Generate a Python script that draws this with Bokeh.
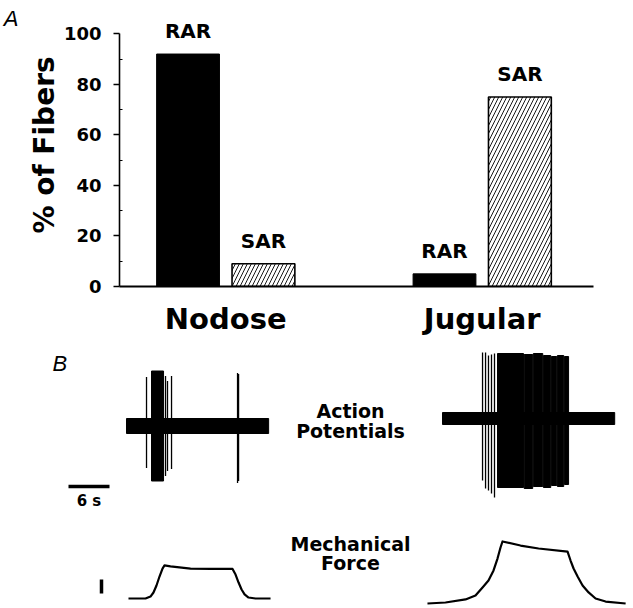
from bokeh.plotting import figure
from bokeh.models import Range1d, FixedTicker, LinearAxis
from bokeh.embed import file_html
from bokeh.resources import INLINE
from bokeh.core.properties import value

# ---------------- Panel A data ----------------
groups = ["Nodose", "Jugular"]
rar_pct = [92, 5]
sar_pct = [9, 75]
y_ticks = [0, 20, 40, 60, 80, 100]
y_minor_ticks = [10, 30, 50, 70, 90]

# ---------------- Panel B data (seconds / arbitrary units) ----------------
# Nodose action potential record
nod_duration = 20.8
nod_noise = 0.75
nod_burst_start = [3.66]
nod_burst_end = [5.42]
nod_burst_top = [5.5]
nod_burst_bot = [-5.5]
nod_spike_t = [2.93, 5.71, 6.0, 6.59, 16.25, 16.4]
nod_spike_top = [4.9, 5.0, 4.5, 5.0, 5.3, 5.2]
nod_spike_bot = [-4.2, -5.0, -4.5, -4.3, -5.7, -5.5]

# Jugular action potential record
jug_duration = 25.2
jug_noise = 0.6
jug_spike_t = [5.86, 6.30, 6.73, 7.17, 7.61]
jug_spike_top = [6.6, 6.6, 6.3, 6.4, 6.5]
jug_spike_bot = [-6.2, -7.0, -7.2, -7.5, -7.9]
jug_burst_start = [8.05, 11.95, 13.3, 14.77, 15.94, 16.82, 17.84]
jug_burst_end = [11.85, 13.2, 14.67, 15.84, 16.72, 17.74, 18.45]
jug_burst_top = [6.5, 6.4, 6.5, 6.3, 6.2, 6.3, 6.2]
jug_burst_bot = [-6.9, -7.0, -6.8, -6.9, -6.7, -6.8, -6.6]

# Mechanical force records
nod_force_t = [0.29, 2.78, 3.51, 3.95, 4.39, 4.83, 5.27, 5.56, 6.44, 9.37, 12.3,
               15.52, 15.96, 16.4, 16.84, 17.28, 17.86, 18.89, 21.08]
nod_force = [0, 0, 0.14, 0.43, 0.93, 1.57, 2.14, 2.36, 2.29, 2.14, 2.11,
             2.11, 1.71, 1.14, 0.64, 0.29, 0.07, 0, 0]
jug_force_t = [-2.2, 0.44, 3.37, 4.83, 5.86, 6.73, 7.47, 8.05, 8.49, 8.78, 11.42,
               14.06, 18.3, 18.74, 19.18, 19.77, 20.5, 21.38, 22.4, 23.87, 26.8]
jug_force = [0, 0.07, 0.29, 0.57, 1.14, 1.64, 2.36, 3.21, 4.0, 4.43, 4.14,
             3.93, 3.71, 3.07, 2.5, 1.93, 1.29, 0.79, 0.36, 0.14, 0]

time_bar_s = 6
force_bar_units = 1

BOLD = "DejaVu Sans"

# ---------------- Panel A ----------------
pA = figure(width=633, height=340, x_range=Range1d(0.0857, 1.934), y_range=Range1d(0, 112),
            output_backend="svg", toolbar_location=None,
            min_border_left=118, min_border_right=40, min_border_top=3, min_border_bottom=54)
pA.xgrid.visible = False
pA.ygrid.visible = False
pA.outline_line_color = None
pA.background_fill_color = "white"

group_x = [0.5, 1.5]
off = 0.147
bw = 0.245
rar_x = [g - off for g in group_x]
sar_x = [g + off for g in group_x]

pA.vbar(x=rar_x, top=rar_pct, width=bw, fill_color="black", line_color="black", line_width=1)
pA.vbar(x=sar_x, top=sar_pct, width=bw, fill_color="white", line_color="black", line_width=1.6,
        hatch_pattern="/", hatch_color="black", hatch_scale=8, hatch_weight=0.9)

pA.text(x=rar_x, y=rar_pct, text=["RAR"] * 2, text_font=value(BOLD), text_font_style="bold",
        text_font_size="20px", text_align="center", text_baseline="alphabetic", y_offset=-23)
pA.text(x=sar_x, y=sar_pct, text=["SAR"] * 2, text_font=value(BOLD), text_font_style="bold",
        text_font_size="20px", text_align="center", text_baseline="alphabetic", y_offset=-23)

ya = pA.yaxis[0]
ya.ticker = FixedTicker(ticks=y_ticks, minor_ticks=y_minor_ticks)
ya.bounds = (0, 100)
ya.major_label_text_font = BOLD
ya.major_label_text_font_style = "bold"
ya.major_label_text_font_size = "18px"
ya.major_label_text_color = "black"
ya.major_tick_out = 6
ya.major_tick_in = 0
ya.minor_tick_in = 3
ya.minor_tick_out = 0
ya.major_tick_line_width = 1.5
ya.axis_line_width = 1.6
ya.major_label_standoff = 12
ya.axis_label = "% of Fibers"
ya.axis_label_text_font = BOLD
ya.axis_label_text_font_style = "bold"
ya.axis_label_text_font_size = "28px"
ya.axis_label_text_color = "black"
ya.axis_label_standoff = 0

# panel letter "A" carried as the single tick label of an extra, invisible left axis
panel_axis = LinearAxis(ticker=FixedTicker(ticks=[106]), major_label_overrides={106: "A"},
                        axis_line_color=None, major_tick_line_color=None,
                        minor_tick_line_color=None, major_label_standoff=0,
                        major_label_text_font="Liberation Sans",
                        major_label_text_font_style="italic",
                        major_label_text_font_size="22px", major_label_text_color="black")
pA.add_layout(panel_axis, "left")

xa = pA.xaxis[0]
xa.ticker = FixedTicker(ticks=group_x)
xa.major_label_overrides = {group_x[i]: groups[i] for i in range(len(groups))}
xa.major_label_text_font = BOLD
xa.major_label_text_font_style = "bold"
xa.major_label_text_font_size = "29px"
xa.major_label_text_color = "black"
xa.major_tick_out = 0
xa.major_tick_in = 0
xa.minor_tick_out = 0
xa.minor_tick_in = 0
xa.axis_line_width = 1.8
xa.major_label_standoff = 15

# ---------------- Panel B ----------------
PX_PER_S = 41 / 6
AP_GAIN = 10
F_GAIN = 14
pB = figure(width=633, height=268, x_range=Range1d(0, 633 / PX_PER_S), y_range=Range1d(0, 268),
            x_axis_type=None, y_axis_type=None, output_backend="svg", toolbar_location=None,
            min_border=0)
pB.xgrid.visible = False
pB.ygrid.visible = False
pB.outline_line_color = None


def draw_ap(x0, yc, dur, noise, bs, be, btop, bbot, st, stop, sbot):
    pB.quad(left=[x0], right=[x0 + dur], bottom=[yc - AP_GAIN * noise], top=[yc + AP_GAIN * noise],
            fill_color="black", line_color="black", line_width=1)
    pB.quad(left=[x0 + b for b in bs], right=[x0 + e for e in be],
            bottom=[yc + AP_GAIN * v for v in bbot], top=[yc + AP_GAIN * v for v in btop],
            fill_color="black", line_color="black", line_width=1)
    pB.segment(x0=[x0 + t for t in st], x1=[x0 + t for t in st],
               y0=[yc + AP_GAIN * v for v in sbot], y1=[yc + AP_GAIN * v for v in stop],
               line_color="black", line_width=1.3)


nod_x0 = 126 / PX_PER_S
jug_x0 = 442 / PX_PER_S
draw_ap(nod_x0, 182.5, nod_duration, nod_noise, nod_burst_start, nod_burst_end, nod_burst_top,
        nod_burst_bot, nod_spike_t, nod_spike_top, nod_spike_bot)
draw_ap(jug_x0, 190, jug_duration, jug_noise, jug_burst_start, jug_burst_end, jug_burst_top,
        jug_burst_bot, jug_spike_t, jug_spike_top, jug_spike_bot)

pB.line(x=[nod_x0 + t for t in nod_force_t], y=[10 + F_GAIN * f for f in nod_force],
        line_color="black", line_width=2.2, line_join="round")
pB.line(x=[jug_x0 + t for t in jug_force_t], y=[5 + F_GAIN * f for f in jug_force],
        line_color="black", line_width=2.2, line_join="round")

# scale bars
tb_x0 = 68 / PX_PER_S
pB.segment(x0=[tb_x0], x1=[tb_x0 + time_bar_s], y0=[122], y1=[122], line_color="black",
           line_width=3.5, line_cap="butt")
fb_x = 101 / PX_PER_S
pB.segment(x0=[fb_x], x1=[fb_x], y0=[15], y1=[15 + F_GAIN * force_bar_units], line_color="black",
           line_width=3.5, line_cap="butt")

pB.text(x=[tb_x0 + time_bar_s / 2], y=[108], text=["6 s"], text_font=value(BOLD),
        text_font_style="bold", text_font_size="15px", text_align="center",
        text_baseline="middle")

lab_x = 350 / PX_PER_S
pB.text(x=[lab_x] * 4, y=[198, 178, 65, 46], text=["Action", "Potentials", "Mechanical", "Force"],
        text_font=value(BOLD), text_font_style="bold", text_font_size="19px",
        text_align="center", text_baseline="middle")

pB.text(x=[52 / PX_PER_S], y=[245], text=["B"], text_font=value("Liberation Sans"),
        text_font_style="italic", text_font_size="22px", text_align="left",
        text_baseline="middle")

open("out.html", "w").write(file_html([pA, pB], INLINE))
